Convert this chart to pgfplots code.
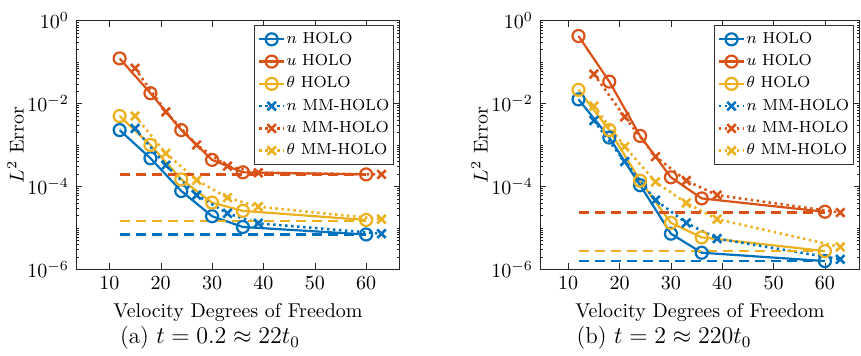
\documentclass[border=0pt]{standalone}
\usepackage{pgfplots}
\pgfplotsset{compat=1.18}
\definecolor{mblue}{rgb}{0,0.447,0.741}
\definecolor{morange}{rgb}{0.85,0.325,0.098}
\definecolor{myellow}{rgb}{0.929,0.694,0.125}
\pgfplotsset{
  errax/.style={
    scale only axis, anchor=south west,
    height=124.3pt, ymin=1e-6, ymax=1,
    ytick={1e-6,1e-4,1e-2,1},
    minor ytick={2e-6,3e-6,4e-6,5e-6,6e-6,7e-6,8e-6,9e-6,1e-5,2e-5,3e-5,4e-5,5e-5,6e-5,7e-5,8e-5,9e-5,
      2e-4,3e-4,4e-4,5e-4,6e-4,7e-4,8e-4,9e-4,1e-3,2e-3,3e-3,4e-3,5e-3,6e-3,7e-3,8e-3,9e-3,
      2e-2,3e-2,4e-2,5e-2,6e-2,7e-2,8e-2,9e-2,1e-1,2e-1,3e-1,4e-1,5e-1,6e-1,7e-1,8e-1,9e-1},
    xtick={10,20,30,40,50,60},
    xlabel={Velocity Degrees of Freedom},
    ylabel={$L^2$ Error},
    ylabel shift=-5pt,
    axis line style={black!85, line width=0.5pt},
    major tick length=3pt, minor tick length=1.5pt,
    tick style={black!85},
    legend style={at={(1,1)}, xshift=-3pt, yshift=-2pt, anchor=north east,
      font=\footnotesize, draw=black!80, line width=0.5pt, inner xsep=1.5pt, inner ysep=1.5pt,
      nodes={inner xsep=0.6pt, inner ysep=2pt}, row sep=0pt},
    legend cell align=left,
    legend image code/.code={\draw[mark repeat=2,mark phase=2] plot coordinates {(0cm,0cm)(0.22cm,0cm)(0.44cm,0cm)};},
  },
  holo/.style={solid, line width=1.1pt, mark=o, mark size=3pt, mark options={solid, line width=1.1pt}},
  mm/.style={line width=1.3pt, dash pattern=on 1.2pt off 1.8pt, mark=x, mark size=3pt, mark options={solid, line width=1.3pt}},
  ref/.style={line width=1.1pt, dash pattern=on 5pt off 3pt, forget plot},
}
\begin{document}
\begin{tikzpicture}
\useasboundingbox (0,0) rectangle (430.5pt,178pt);
\begin{semilogyaxis}[errax, at={(38pt,43.35pt)}, width=162pt, xmin=3.5, xmax=66.6]
\addplot[mblue, holo] coordinates {(12,2.29e-3)(18,4.79e-4)(24,7.76e-5)(30,1.91e-5)(36,1.05e-5)(60,6.92e-6)};
\addlegendentry{$n$ HOLO}
\addplot[morange, holo] coordinates {(12,0.123)(18,1.78e-2)(24,2.29e-3)(30,4.37e-4)(36,2.19e-4)(60,1.95e-4)};
\addlegendentry{$u$ HOLO}
\addplot[myellow, holo] coordinates {(12,5.0e-3)(18,1.0e-3)(24,1.48e-4)(30,4.07e-5)(36,2.57e-5)(60,1.55e-5)};
\addlegendentry{$\theta$ HOLO}
\addplot[mblue, mm] coordinates {(15,2.5e-3)(21,3.24e-4)(27,6.17e-5)(33,2.24e-5)(39,1.29e-5)(63,7.24e-6)};
\addlegendentry{$n$ MM-HOLO}
\addplot[morange, mm] coordinates {(15,7.08e-2)(21,6.31e-3)(27,1.0e-3)(33,3.09e-4)(39,2.14e-4)(63,1.95e-4)};
\addlegendentry{$u$ MM-HOLO}
\addplot[myellow, mm] coordinates {(15,5.0e-3)(21,6.31e-4)(27,1.41e-4)(33,5.37e-5)(39,3.24e-5)(63,1.62e-5)};
\addlegendentry{$\theta$ MM-HOLO}
\addplot[morange, ref] coordinates {(12,1.95e-4)(60,1.95e-4)};
\addplot[myellow, ref] coordinates {(12,1.45e-5)(60,1.45e-5)};
\addplot[mblue, ref] coordinates {(12,6.92e-6)(60,6.92e-6)};
\end{semilogyaxis}
\begin{semilogyaxis}[errax, at={(270pt,43.35pt)}, width=159.9pt, xmin=4.5, xmax=66.8]
\addplot[mblue, holo] coordinates {(12,1.26e-2)(18,1.51e-3)(24,1.07e-4)(30,7.24e-6)(36,2.51e-6)(60,1.58e-6)};
\addlegendentry{$n$ HOLO}
\addplot[morange, holo] coordinates {(12,0.427)(18,3.39e-2)(24,1.66e-3)(30,1.66e-4)(36,5.13e-5)(60,2.45e-5)};
\addlegendentry{$u$ HOLO}
\addplot[myellow, holo] coordinates {(12,2.14e-2)(18,2.29e-3)(24,1.38e-4)(30,1.32e-5)(36,5.89e-6)(60,2.75e-6)};
\addlegendentry{$\theta$ HOLO}
\addplot[mblue, mm] coordinates {(15,3.89e-3)(21,3.98e-4)(27,4.68e-5)(33,1.32e-5)(39,5.5e-6)(63,1.74e-6)};
\addlegendentry{$n$ MM-HOLO}
\addplot[morange, mm] coordinates {(15,5.13e-2)(21,4.79e-3)(27,5.25e-4)(33,1.38e-4)(39,6.17e-5)(63,2.34e-5)};
\addlegendentry{$u$ MM-HOLO}
\addplot[myellow, mm] coordinates {(15,8.71e-3)(21,9.12e-4)(27,1.29e-4)(33,3.98e-5)(39,1.62e-5)(63,3.47e-6)};
\addlegendentry{$\theta$ MM-HOLO}
\addplot[morange, ref] coordinates {(12,2.34e-5)(60,2.34e-5)};
\addplot[myellow, ref] coordinates {(12,2.75e-6)(60,2.75e-6)};
\addplot[mblue, ref] coordinates {(12,1.58e-6)(60,1.58e-6)};
\end{semilogyaxis}
\node[font=\fontsize{11.5}{13}\selectfont] at (105pt,9pt) {(a) $t=0.2\approx22t_0$};
\node[font=\fontsize{11.5}{13}\selectfont] at (332pt,9pt) {(b) $t=2\approx220t_0$};
\end{tikzpicture}
\end{document}
